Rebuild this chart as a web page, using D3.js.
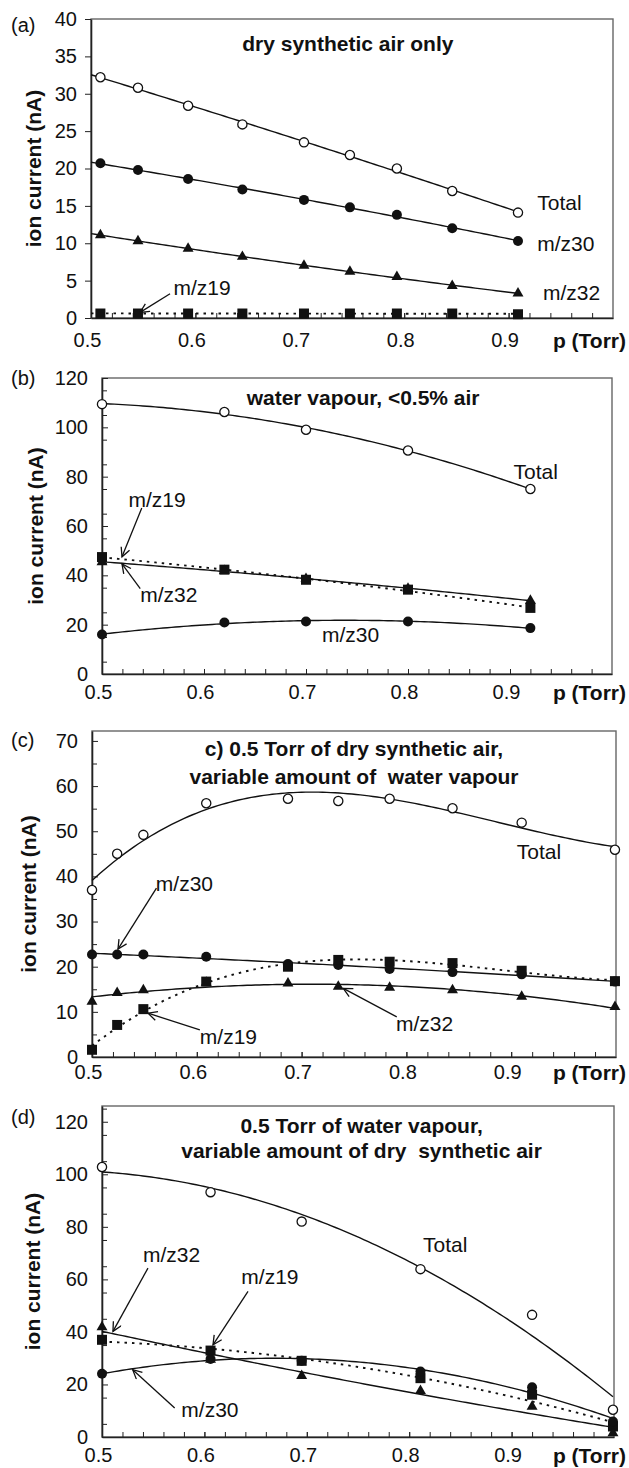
<!DOCTYPE html>
<html lang="en">
<head>
<meta charset="UTF-8">
<title>ion current vs p</title>
<script src="https://cdnjs.cloudflare.com/ajax/libs/d3/7.8.5/d3.min.js"></script>
<style>
  body { margin: 0; background: #fff; }
  svg text { font-family: "Liberation Sans", Arial, sans-serif; fill: #111; }
  .tick text { font-size: 20px; }
  .tick line, .domain { stroke: #222; }
</style>
</head>
<body>
<svg id="chart" width="629" height="1468"></svg>
<script>
// ---- data (p in Torr, ion current in nA) ----

// (a) dry synthetic air only
var pA      = [0.509, 0.545, 0.593, 0.645, 0.704, 0.748, 0.793, 0.846, 0.909];
var aTotal  = [32.2, 30.8, 28.4, 25.9, 23.5, 21.8, 20.0, 17.0, 14.1];
var aMz30   = [20.7, 19.8, 18.6, 17.2, 15.8, 14.8, 13.8, 12.0, 10.3];
var aMz32   = [11.1, 10.3, 9.3, 8.2, 7.0, 6.2, 5.5, 4.3, 3.3];
var aMz19   = [0.6, 0.6, 0.6, 0.6, 0.6, 0.6, 0.6, 0.6, 0.5];

// (b) water vapour, <0.5% air
var pB      = [0.50, 0.62, 0.70, 0.80, 0.92];
var bTotal  = [109.4, 106.2, 99.0, 90.6, 75.0];
var bMz30   = [16.0, 20.9, 21.3, 21.3, 18.6];
var bMz32   = [45.4, 41.8, 38.6, 34.6, 29.8];
var bMz19   = [47.4, 42.3, 38.2, 34.2, 26.8];

// (c) 0.5 Torr of dry synthetic air, variable water vapour
var pC      = [0.500, 0.524, 0.549, 0.609, 0.687, 0.735, 0.784, 0.844, 0.910, 0.999];
var cTotal  = [37.0, 45.0, 49.2, 56.2, 57.2, 56.7, 57.2, 55.1, 51.9, 45.9];
var cMz30   = [22.7, 22.7, 22.7, 22.2, 20.6, 20.4, 19.5, 18.8, 18.3, 16.7];
var cMz32   = [12.3, 14.2, 14.8, 16.5, 16.3, 15.6, 15.4, 14.8, 13.4, 11.1];
var cMz19   = [1.6, 7.1, 10.6, 16.7, 20.0, 21.5, 21.1, 20.8, 19.1, 16.8];

// (d) 0.5 Torr of water vapour, variable dry synthetic air
var pD      = [0.500, 0.606, 0.695, 0.811, 0.920, 0.999];
var dTotal  = [102.8, 93.2, 82.0, 63.9, 46.5, 10.4];
var dMz30   = [24.1, 29.7, 29.0, 24.9, 18.9, 5.9];
var dMz32   = [41.8, 29.5, 23.3, 17.6, 11.6, 1.5];
var dMz19   = [37.0, 32.9, 29.0, 22.4, 16.1, 4.0];

var xTickLabels = [0.5, 0.6, 0.7, 0.8, 0.9];

// ---- panels ----
var panels = [
  { letter: "(a)", letterY: 25, left: 91, right: 613, top: 19, bottom: 318, yMax: 40, yStep: 5, yMinor: 0,
    yTickOut: true, ylabX: 33, xPad: 15, fitFrom: 0.5,
    title: ["dry synthetic air only"], titleAt: [0.746, 36.7],
    series: [
      { x: pA, y: aTotal, mark: "open", dash: false, deg: 2 },
      { x: pA, y: aMz30, mark: "circle", dash: false, deg: 2 },
      { x: pA, y: aMz32, mark: "triangle", dash: false, deg: 2 },
      { x: pA, y: aMz19, mark: "square", dash: true, deg: 1 }
    ],
    notes: [
      { text: "Total", at: [0.9275, 15.5] },
      { text: "m/z30", at: [0.9275, 10.0] },
      { text: "m/z32", at: [0.933, 3.4] },
      { text: "m/z19", at: [0.579, 4.1], from: [0.5757, 3.24], to: [0.547, 0.75] }
    ] },
  { letter: "(b)", letterY: 378, left: 102, right: 612, top: 378, bottom: 674, yMax: 120, yStep: 20, yMinor: 5,
    ylabX: 35, xPad: 11, fitFrom: 0.5,
    title: ["water vapour, <0.5% air"], titleAt: [0.756, 111.9],
    series: [
      { x: pB, y: bTotal, mark: "open", dash: false, deg: 2 },
      { x: pB, y: bMz19, mark: "square", dash: true, deg: 2 },
      { x: pB, y: bMz32, mark: "triangle", dash: false, deg: 2 },
      { x: pB, y: bMz30, mark: "circle", dash: false, deg: 2 }
    ],
    notes: [
      { text: "Total", at: [0.9035, 82.1] },
      { text: "m/z30", at: [0.7157, 15.9] },
      { text: "m/z19", at: [0.526, 70.7], from: [0.539, 67.3], to: [0.5196, 47.5] },
      { text: "m/z32", at: [0.5375, 32.1], from: [0.5375, 34.6], to: [0.5196, 44.6] }
    ] },
  { letter: "(c)", letterY: 740, left: 92, right: 616, top: 731, bottom: 1057, yMax: 72.2, yStep: 10, yMinor: 5,
    ylabX: 28, xPad: 8, fitFrom: 0.5,
    title: ["c) 0.5 Torr of dry synthetic air,", "variable amount of \u00a0water vapour"],
    titleAt: [0.75, 68.4], titleGap: 6.3,
    series: [
      { x: pC, y: cTotal, mark: "open", dash: false, deg: 3 },
      { x: pC, y: cMz30, mark: "circle", dash: false, deg: 2 },
      { x: pC, y: cMz32, mark: "triangle", dash: false, deg: 2 },
      { x: pC, y: cMz19, mark: "square", dash: true, deg: 3 }
    ],
    notes: [
      { text: "Total", at: [0.9054, 45.6] },
      { text: "m/z30", at: [0.5609, 38.5], from: [0.5615, 37.4], to: [0.5248, 23.9] },
      { text: "m/z19", at: [0.6029, 4.5], from: [0.6029, 6.0], to: [0.5535, 9.7] },
      { text: "m/z32", at: [0.790, 7.5], from: [0.7908, 8.9], to: [0.7398, 15.2] }
    ] },
  { letter: "(d)", letterY: 1117, left: 102, right: 614, top: 1106, bottom: 1437, yMax: 126, yStep: 20, yMinor: 5,
    ylabX: 32, xPad: 11, fitFrom: 0.5,
    title: ["0.5 Torr of water vapour,", "variable amount of dry \u00a0synthetic air"],
    titleAt: [0.7535, 118.7], titleGap: 9.8,
    series: [
      { x: pD, y: dTotal, mark: "open", dash: false, deg: 2 },
      { x: pD, y: dMz19, mark: "square", dash: true, deg: 2 },
      { x: pD, y: dMz30, mark: "circle", dash: false, deg: 2 },
      { x: pD, y: dMz32, mark: "triangle", dash: false, deg: 2 }
    ],
    notes: [
      { text: "Total", at: [0.8135, 73.1] },
      { text: "m/z32", at: [0.540, 69.3], from: [0.5449, 64.3], to: [0.5107, 40.2] },
      { text: "m/z19", at: [0.6361, 61.1], from: [0.6426, 55.4], to: [0.6084, 35.1] },
      { text: "m/z30", at: [0.5775, 10.4], from: [0.571, 11.0], to: [0.530, 25.6] }
    ] }
];

// least squares polynomial, like a spreadsheet trendline
function polyfit(xs, ys, deg) {
  var n = deg + 1, A = [], b = [];
  for (var i = 0; i < n; i++) { A.push(new Array(n).fill(0)); b.push(0); }
  xs.forEach(function(x, k) {
    var t = x - 0.75;
    for (var i = 0; i < n; i++) {
      b[i] += ys[k] * Math.pow(t, i);
      for (var j = 0; j < n; j++) A[i][j] += Math.pow(t, i + j);
    }
  });
  for (var c = 0; c < n; c++) {
    for (var r = c + 1; r < n; r++) {
      var f = A[r][c] / A[c][c];
      for (var j = c; j < n; j++) A[r][j] -= f * A[c][j];
      b[r] -= f * b[c];
    }
  }
  var coef = new Array(n).fill(0);
  for (var i = n - 1; i >= 0; i--) {
    var s = b[i];
    for (var j = i + 1; j < n; j++) s -= A[i][j] * coef[j];
    coef[i] = s / A[i][i];
  }
  return function(x) {
    var t = x - 0.75, v = 0;
    for (var i = n - 1; i >= 0; i--) v = v * t + coef[i];
    return v;
  };
}

var svg = d3.select("#chart");
svg.append("rect").attr("width", 629).attr("height", 1468).attr("fill", "#fff");

svg.append("defs").append("marker")
  .attr("id", "arrow")
  .attr("markerUnits", "userSpaceOnUse")
  .attr("markerWidth", 12).attr("markerHeight", 12)
  .attr("refX", 10).attr("refY", 5)
  .attr("orient", "auto")
  .append("path")
  .attr("d", "M1,0.5 L10,5 L1,9.5")
  .attr("fill", "none").attr("stroke", "#111").attr("stroke-width", 1.3);

panels.forEach(function(P) {
  var x = d3.scaleLinear().domain([0.5, 1.0]).range([P.left, P.right]);
  var y = d3.scaleLinear().domain([0, P.yMax]).range([P.bottom, P.top]);
  var g = svg.append("g");

  // plot frame
  g.append("rect")
    .attr("x", P.left).attr("y", P.top)
    .attr("width", P.right - P.left).attr("height", P.bottom - P.top)
    .attr("fill", "none").attr("stroke", "#666").attr("stroke-width", 1.4);

  // x axis: minor ticks every 0.02, labels every 0.1
  g.append("g")
    .attr("transform", "translate(0," + P.bottom + ")")
    .call(d3.axisBottom(x).tickValues(d3.range(0.52, 0.999, 0.02)).tickSize(-5).tickFormat(""))
    .call(function(a) { a.select(".domain").remove(); });
  g.append("g")
    .attr("transform", "translate(0," + P.bottom + ")")
    .call(d3.axisBottom(x).tickValues(xTickLabels).tickSize(-5).tickSizeOuter(0)
      .tickPadding(P.xPad).tickFormat(d3.format(".1f")))
    .call(function(a) {
      a.select(".domain").attr("stroke-width", 1.6);
      a.selectAll(".tick text").attr("dx", -4);
    });

  // y axis
  if (P.yMinor) {
    g.append("g")
      .attr("transform", "translate(" + P.left + ",0)")
      .call(d3.axisLeft(y).tickValues(d3.range(P.yMinor, P.yMax, P.yMinor * 2)).tickSize(-5).tickFormat(""))
      .call(function(a) { a.select(".domain").remove(); });
  }
  var yTicks = d3.range(0, P.yMax + 0.01, P.yStep);
  g.append("g")
    .attr("transform", "translate(" + P.left + ",0)")
    .call(d3.axisLeft(y).tickValues(yTicks).tickSize(P.yTickOut ? 6 : -6).tickSizeOuter(0)
      .tickPadding(P.yTickOut ? 8 : 14).tickFormat(d3.format("d")))
    .call(function(a) { a.select(".domain").attr("stroke-width", 1.6); });

  var xLabY = P.bottom + P.xPad + 7;
  g.append("text")
    .attr("x", 626).attr("y", xLabY)
    .attr("text-anchor", "end").attr("dominant-baseline", "central")
    .style("font-size", "21px").style("font-weight", "bold")
    .text("p (Torr)");

  g.append("text")
    .attr("transform", "translate(" + P.ylabX + "," + ((P.top + P.bottom) / 2) + ") rotate(-90)")
    .attr("text-anchor", "middle").attr("dominant-baseline", "central")
    .style("font-size", "21px").style("font-weight", "bold")
    .text("ion current (nA)");

  g.append("text")
    .attr("x", 11).attr("y", P.letterY)
    .attr("dominant-baseline", "central")
    .style("font-size", "20px")
    .text(P.letter);

  // title
  P.title.forEach(function(t, i) {
    g.append("text")
      .attr("x", x(P.titleAt[0]))
      .attr("y", y(P.titleAt[1] - i * (P.titleGap || 0)))
      .attr("text-anchor", "middle").attr("dominant-baseline", "central")
      .style("font-size", "21px").style("font-weight", "bold")
      .text(t);
  });

  // trend lines
  var line = d3.line().x(function(d) { return x(d[0]); }).y(function(d) { return y(d[1]); });
  P.series.forEach(function(s) {
    var f = polyfit(s.x, s.y, s.deg);
    var last = s.x[s.x.length - 1];
    var pts = d3.range(P.fitFrom, last, 0.004).concat([last]).map(function(v) { return [v, f(v)]; });
    g.append("path")
      .attr("d", line(pts))
      .attr("fill", "none")
      .attr("stroke", "#111")
      .attr("stroke-width", s.dash ? 1.9 : 1.4)
      .attr("stroke-dasharray", s.dash ? "2.5,5" : null);
  });

  // markers
  P.series.forEach(function(s) {
    var pts = s.x.map(function(v, i) { return [v, s.y[i]]; });
    var sel = g.append("g").selectAll("g").data(pts).enter().append("g")
      .attr("transform", function(d) { return "translate(" + x(d[0]) + "," + y(d[1]) + ")"; });
    if (s.mark === "open") {
      sel.append("circle").attr("r", 4.6).attr("fill", "#fff").attr("stroke", "#111").attr("stroke-width", 1.3);
    } else if (s.mark === "circle") {
      sel.append("circle").attr("r", 5).attr("fill", "#111");
    } else if (s.mark === "square") {
      sel.append("rect").attr("x", -5).attr("y", -5).attr("width", 10).attr("height", 10).attr("fill", "#111");
    } else {
      sel.append("path").attr("d", d3.symbol().type(d3.symbolTriangle).size(52)()).attr("fill", "#111");
    }
  });

  // labels and arrows
  P.notes.forEach(function(n) {
    g.append("text")
      .attr("x", x(n.at[0])).attr("y", y(n.at[1]))
      .attr("dominant-baseline", "central")
      .style("font-size", "21px")
      .text(n.text);
    if (n.from) {
      g.append("line")
        .attr("x1", x(n.from[0])).attr("y1", y(n.from[1]))
        .attr("x2", x(n.to[0])).attr("y2", y(n.to[1]))
        .attr("stroke", "#111").attr("stroke-width", 1.3)
        .attr("marker-end", "url(#arrow)");
    }
  });
});
</script>
</body>
</html>
